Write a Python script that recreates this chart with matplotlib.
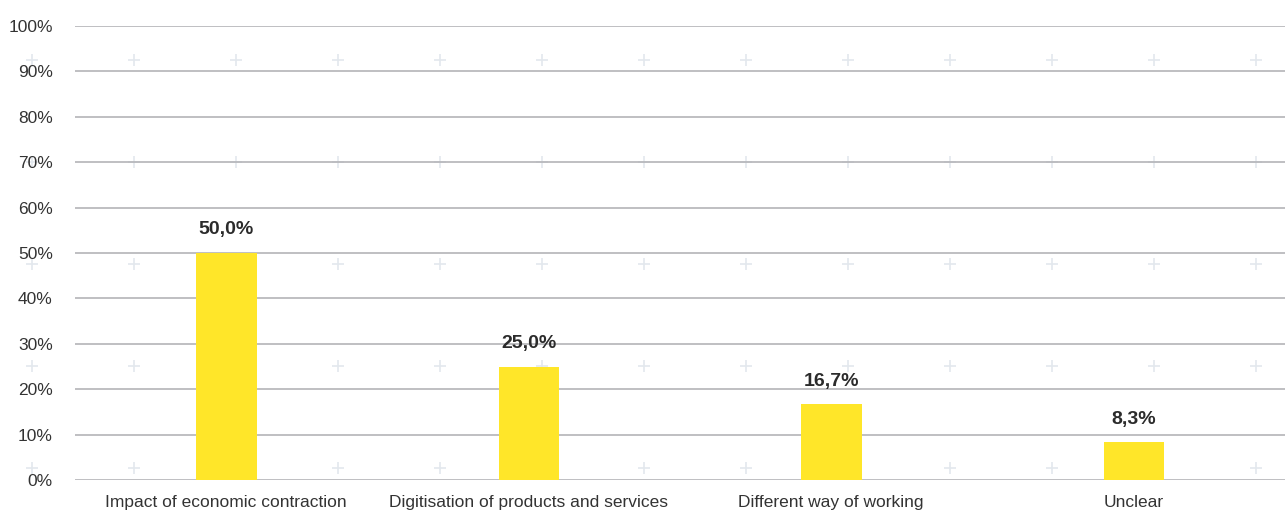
import matplotlib.pyplot as plt
import numpy as np

categories = ['Impact of economic contraction', 'Digitisation of products and services',
              'Different way of working', 'Unclear']
values = [50.0, 25.0, 16.7, 8.3]
value_labels = ['50,0%', '25,0%', '16,7%', '8,3%']
yticks = [0, 10, 20, 30, 40, 50, 60, 70, 80, 90, 100]

plt.rcParams['font.family'] = ['Liberation Sans Narrow', 'Liberation Sans', 'DejaVu Sans']

W, H = 1285, 517
fig = plt.figure(figsize=(W / 100, H / 100), dpi=100)
ax = fig.add_axes([75 / W, 1 - 480 / H, 1 - 75 / W, (480 - 26) / H])
ax.set_zorder(2)

# faint "+" watermark pattern in the background
px = np.arange(32, 1285, 102)
py = np.arange(60, 470, 102)
gx, gy = np.meshgrid(px, py)
fig.lines.append(plt.Line2D(gx.ravel() / W, 1 - gy.ravel() / H, ls='none', marker='+',
                            ms=8, mew=1.2, color='#e3e8ed', transform=fig.transFigure, zorder=-1))

x = np.arange(len(categories))
ax.set_facecolor('none')
ax.bar(x, values, width=0.2, color='#ffe629', zorder=3)
for xi, v, lab in zip(x, values, value_labels):
    ax.text(xi, v + 3.2, lab, ha='center', va='bottom', fontsize=14,
            fontweight='bold', color='#2b2b2b')

ax.set_xlim(-0.5, len(categories) - 0.5)
ax.set_ylim(0, 100)
ax.set_yticks(yticks)
ax.set_yticklabels([f'{t}%' for t in yticks])
ax.set_xticks(x)
ax.set_xticklabels(categories)
ax.tick_params(axis='both', length=0, labelsize=12.5, labelcolor='#333333')
ax.tick_params(axis='y', pad=16)
ax.tick_params(axis='x', pad=11)
ax.grid(axis='y', color='#b4b4b8', lw=1.2, zorder=1)
ax.set_axisbelow(True)
for s in ax.spines.values():
    s.set_visible(False)

fig.savefig('out.png', dpi=100)
